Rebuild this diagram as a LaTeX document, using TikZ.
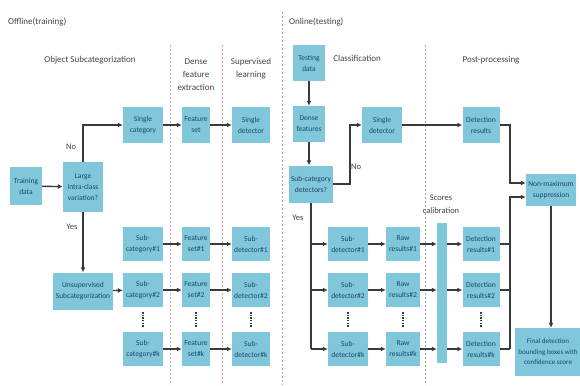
\documentclass[tikz,border=0pt]{standalone}
\usepackage{fontspec}
\setmainfont{Carlito}
\usetikzlibrary{arrows.meta}
\definecolor{boxc}{HTML}{80C7DB}
\definecolor{txtc}{HTML}{1B4763}
\definecolor{linec}{HTML}{3A3A3A}
\definecolor{hdc}{HTML}{444444}
\definecolor{sepred}{HTML}{E3A3A3}
\definecolor{sepgray}{HTML}{ABABAB}
\begin{document}
\begin{tikzpicture}[x=1pt,y=-1pt,
 bx/.style={fill=boxc, text=txtc, align=center, font=\fontsize{7.5}{11}\selectfont, inner sep=0pt, minimum height=34pt},
 hd/.style={font=\fontsize{9}{13}\selectfont, text=hdc, align=center, inner sep=0pt},
 lab/.style={font=\fontsize{8.5}{13}\selectfont, text=hdc, align=center, inner sep=0pt},
 ar/.style={draw=linec, line width=1.4pt, -{Latex[length=5pt,width=5pt]}},
 ln/.style={draw=linec, line width=1.4pt},
 sepline/.style={line width=0.7pt, dash pattern=on 2pt off 2pt},
 vdots/.style={draw=linec, line width=1.1pt, dash pattern=on 1.3pt off 1.3pt}
]
\useasboundingbox (0,0) rectangle (580,385);
\clip (0,0) rectangle (580,385);
\fill[white] (0,0) rectangle (580,385);

% separators
\draw[sepline, sepred] (170,45) -- (170,385);
\draw[sepline, sepred] (222,45) -- (222,385);
\draw[sepline, sepgray] (282,12) -- (282,385);
\draw[sepline, sepgray] (425,45) -- (425,385);

% headings
\node[hd, anchor=west] (hoff) at (8,22) {Offline(training)};
\node[hd, anchor=west] (hon) at (289,22) {Online(testing)};
\node[hd] (hobj) at (90,60) {Object Subcategorization};
\node[hd] (hdense) at (196,75) {Dense\\feature\\extraction};
\node[hd] (hsup) at (251,68.5) {Supervised\\learning};
\node[hd] (hcls) at (357,58) {Classification};
\node[hd] (hpost) at (491,60) {Post-processing};
\node[lab] (hcal) at (441,204) {Scores\\calibration};

% offline nodes
\node[bx, minimum width=32pt, minimum height=38pt] (train) at (26,186) {Training\\data};
\node[bx, minimum width=40pt, minimum height=50pt] (large) at (83,187) {Large\\intra-class\\variation?};
\node[bx, minimum width=40pt, minimum height=36pt] (scat) at (143,125) {Single\\category};
\node[bx, minimum width=28pt, minimum height=36pt] (fset) at (196,125) {Feature\\set};
\node[bx, minimum width=38pt, minimum height=36pt] (sdet) at (251,125) {Single\\detector};
\node[bx, minimum width=60pt, minimum height=37pt] (unsup) at (83,291) {Unsupervised\\Subcategorization};

\node[bx, minimum width=40pt] (sc1) at (143,244) {Sub-\\category\#1};
\node[bx, minimum width=40pt] (sc2) at (143,290) {Sub-\\category\#2};
\node[bx, minimum width=40pt] (sck) at (143,349) {Sub-\\category\#k};
\node[bx, minimum width=28pt] (fs1) at (196,244) {Feature\\set\#1};
\node[bx, minimum width=28pt] (fs2) at (196,290) {Feature\\set\#2};
\node[bx, minimum width=28pt] (fsk) at (196,349) {Feature\\set\#k};
\node[bx, minimum width=38pt] (sdt1) at (251,244) {Sub-\\detector\#1};
\node[bx, minimum width=38pt] (sdt2) at (251,290) {Sub-\\detector\#2};
\node[bx, minimum width=38pt] (sdtk) at (251,349) {Sub-\\detector\#k};

% online nodes
\node[bx, minimum width=32pt, minimum height=36pt] (test) at (309,63) {Testing\\data};
\node[bx, minimum width=32pt, minimum height=36pt] (dense) at (309,124) {Dense\\features};
\node[bx, minimum width=44pt, minimum height=37pt] (subq) at (311,184) {Sub-category\\detectors?};
\node[bx, minimum width=40pt, minimum height=36pt] (single2) at (382,125) {Single\\detector};
\node[bx, minimum width=37pt, minimum height=36pt] (detres) at (481,125) {Detection\\results};
\node[bx, minimum width=50pt, minimum height=32pt] (nms) at (551,190) {Non-maximum\\suppression};

\node[bx, minimum width=40pt] (sd1) at (348,244) {Sub-\\detector\#1};
\node[bx, minimum width=40pt] (sd2) at (348,290) {Sub-\\detector\#2};
\node[bx, minimum width=40pt] (sdk) at (348,349) {Sub-\\detector\#k};
\node[bx, minimum width=34pt] (raw1) at (403,244) {Raw\\results\#1};
\node[bx, minimum width=34pt] (raw2) at (403,290) {Raw\\results\#2};
\node[bx, minimum width=34pt] (rawk) at (403,349) {Raw\\results\#k};
\node[fill=boxc, minimum width=10pt, minimum height=140pt, inner sep=0pt] (cal) at (442,293) {};
\node[bx, minimum width=37pt] (det1) at (481,244) {Detection\\results\#1};
\node[bx, minimum width=37pt] (det2) at (481,290) {Detection\\results\#2};
\node[bx, minimum width=37pt] (detk) at (481,349) {Detection\\results\#k};
\node[bx, font=\fontsize{7}{10.5}\selectfont, minimum width=66pt, minimum height=48pt] (final) at (548,352) {Final detection\\bounding boxes with\\confidence score};

% labels
\node[lab] (lno1) at (71,147) {No};
\node[lab] (lyes1) at (72,227) {Yes};
\node[lab] (lno2) at (356,167) {No};
\node[lab] (lyes2) at (298,218) {Yes};

% offline connectors
\draw[ar] (train) -- (large);
\draw[ar] (large.north) |- (scat.west);
\draw[ar] (large.south) -- (large.south |- unsup.north);
\draw[ar] (scat) -- (fset);
\draw[ar] (fset) -- (sdet);
\draw[ar] (unsup) -- (sc2);
\foreach \i in {1,2,k}{
  \draw[ar] (sc\i) -- (fs\i);
  \draw[ar] (fs\i) -- (sdt\i);
}
\draw[vdots] ([yshift=-5pt]sc2.south) -- ([yshift=5pt]sck.north);
\draw[vdots] ([yshift=-5pt]fs2.south) -- ([yshift=5pt]fsk.north);
\draw[vdots] ([yshift=-5pt]sdt2.south) -- ([yshift=5pt]sdtk.north);

% online connectors
\draw[ar] (test) -- (dense);
\draw[ar] (dense.south) -- (dense.south |- subq.north);
\coordinate (kn) at (350,184);
\draw[ar] (subq.east) -- (kn) |- (single2.west);
\draw[ar] (single2) -- (detres);
\coordinate (bus) at (510,0);
\coordinate (nA) at ([yshift=7pt]nms.west);
\coordinate (nB) at ([yshift=-7pt]nms.west);
\draw[ar] (detres.east) -- (detres.east -| bus) -- (bus |- nA) -- (nA);
\draw[ln] (subq.south) -- (subq.south |- sdk.west);
\foreach \i in {1,2,k}{
  \draw[ar] (subq.south |- sd\i.west) -- (sd\i.west);
  \draw[ar] (sd\i) -- (raw\i);
  \draw[ar] (raw\i.east) -- (raw\i.east -| cal.west);
  \draw[ar] (raw\i.east -| cal.east) -- (det\i.west);
  \draw[ln] (det\i.east) -- (det\i.east -| bus);
}
\draw[ar] (detk.east -| bus) -- (bus |- nB) -- (nB);
\draw[ar] (nms.south) -- (nms.south |- final.north);
\draw[vdots] ([yshift=-5pt]sd2.south) -- ([yshift=5pt]sdk.north);
\draw[vdots] ([yshift=-5pt]raw2.south) -- ([yshift=5pt]rawk.north);
\draw[vdots] ([yshift=-5pt]det2.south) -- ([yshift=5pt]detk.north);
\end{tikzpicture}
\end{document}
